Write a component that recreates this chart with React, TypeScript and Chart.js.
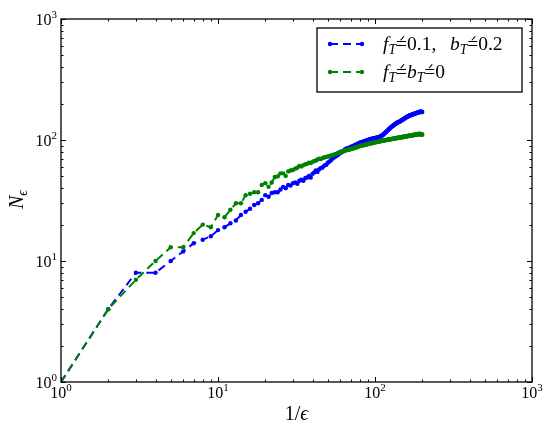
import { useEffect, useRef } from "react";
import { Chart, registerables } from "chart.js";

Chart.register(...registerables);

// ---------- data ----------
const blueValues = [
  1, 4, 8, 8, 10, 12, 14, 15, 16, 18,
  19, 20.5, 21.6, 24, 25.5, 27, 29, 30, 32, 35,
  34, 36.5, 37, 37, 39, 41, 40, 42.5, 42, 44,
  44.5, 43.5, 46, 47, 46, 48.5, 49, 50.5, 49, 52.5,
  54, 56, 54.5, 57, 58.5, 59, 60.5, 62, 62.5, 65,
  66, 67.5, 69, 71, 72, 73, 74.5, 75, 77, 78.5,
  79, 80.5, 81, 83, 84, 85, 85.5, 86, 86.5, 87.5,
  88, 89, 89.5, 90.5, 91, 92, 92.5, 93.5, 94, 95,
  95.5, 96, 96.5, 97, 97.5, 98, 98, 99, 99.5, 100,
  100.5, 101, 101, 102, 102, 102.5, 103, 103.5, 103, 104,
  104, 104.5, 105, 105, 105.5, 106, 106.5, 107, 107.5, 108.5,
  109, 110, 111, 112, 113.5, 114.5, 116, 117, 118.5, 119.5,
  121, 122, 123.5, 124.5, 126, 127, 128, 129, 130, 131,
  132, 133, 134, 135, 136, 137, 137.5, 138.5, 139.5, 140,
  140.5, 141, 141.5, 142.5, 143.5, 144, 145, 146, 146.5, 147.5,
  148, 149, 150, 151, 151.5, 152, 153, 154, 155, 155.5,
  156, 157, 157.5, 158, 158.5, 159, 159.5, 160, 160.5, 161,
  161.5, 162, 162.5, 163, 163.5, 164, 164, 164.5, 165, 165.5,
  166, 166.5, 167, 167, 167.5, 168, 168.5, 169, 169, 169.5,
  170, 170.5, 171, 170.5, 171, 171.5, 171, 170.5, 171, 170,
];

const greenValues = [
  1, 4, 7, 10, 13, 13, 17, 20, 19, 24,
  23, 26.5, 30, 30, 35, 36, 37, 37, 42.5, 44,
  41, 44.5, 49.5, 50, 53, 53, 50.5, 55, 56, 56.5,
  58, 59, 61, 60.5, 62, 63, 63.5, 65, 64.5, 66,
  67, 67.5, 69, 70, 69.5, 70.5, 71.5, 72, 72.5, 73,
  73.5, 74, 74.5, 75, 76, 76.5, 77, 78, 78.5, 80,
  79.5, 80.5, 81, 81, 82, 82.5, 83, 83, 83.5, 84,
  84.5, 85, 85.5, 86, 86.5, 87, 87, 88, 88.5, 89,
  89.5, 90, 90, 90.5, 91, 91, 91.5, 92, 92, 92.5,
  93, 93, 93.5, 94, 94, 94.5, 94.5, 95, 95.5, 95.5,
  96, 96, 96.5, 96.5, 97, 97, 97.5, 97.5, 98, 98,
  98.5, 98.5, 99, 99, 99.5, 99.5, 100, 100, 100, 100.5,
  100.5, 101, 101, 101, 101.5, 101.5, 102, 102, 102, 102.5,
  102.5, 103, 103, 103, 103.5, 103.5, 104, 104, 104, 104.5,
  104.5, 105, 104.5, 105, 105.5, 105, 105.5, 106, 105.5, 106,
  106.5, 106, 106.5, 107, 106.5, 107, 107.5, 107, 107.5, 108,
  107.5, 108, 108, 108.5, 108, 108.5, 109, 108.5, 109, 109,
  109.5, 109, 109.5, 110, 109.5, 110, 110, 110.5, 110, 110.5,
  111, 110.5, 111, 111, 111.5, 111, 111.5, 112, 111.5, 112,
  112, 112.5, 112, 111.5, 112, 111, 111.5, 110.5, 111, 111,
];

// 1/epsilon values (integers 1..200)
const xValues = blueValues.map((_, i) => i + 1);

const axisMin = 1;
const axisMax = 1000;
const tickExponents = ["0", "1", "2", "3"];

type Seg = { t: string; it?: boolean; sub?: boolean; acc?: boolean };
const legendBlue: Seg[] = [
  { t: "f", it: true }, { t: "T", it: true, sub: true }, { t: "=", acc: true },
  { t: "0.1," }, { t: "\u2002\u2009" },
  { t: "b", it: true }, { t: "T", it: true, sub: true }, { t: "=", acc: true }, { t: "0.2" },
];
const legendGreen: Seg[] = [
  { t: "f", it: true }, { t: "T", it: true, sub: true }, { t: "=", acc: true },
  { t: "b", it: true }, { t: "T", it: true, sub: true }, { t: "=", acc: true }, { t: "0" },
];
const yTitle: Seg[] = [{ t: "N", it: true }, { t: "\u03F5", it: true, sub: true }];
const xTitle: Seg[] = [{ t: "1/" }, { t: "\u03F5", it: true }];

const BLUE = "#0000ff";
const GREEN = "#008000";
const FONT = '"Liberation Serif", "DejaVu Serif", serif';

function segFont(s: Seg, size: number) {
  const sz = s.sub ? size * 0.7 : size;
  return `${s.it ? "italic " : ""}${sz}px ${FONT}`;
}

function richWidth(ctx: CanvasRenderingContext2D, segs: Seg[], size: number) {
  let w = 0;
  for (const s of segs) {
    ctx.font = segFont(s, size);
    w += ctx.measureText(s.t).width;
  }
  return w;
}

function drawRich(ctx: CanvasRenderingContext2D, x: number, y: number, segs: Seg[], size: number) {
  ctx.textAlign = "left";
  ctx.textBaseline = "alphabetic";
  for (const s of segs) {
    ctx.font = segFont(s, size);
    const w = ctx.measureText(s.t).width;
    const yy = s.sub ? y + size * 0.22 : y;
    ctx.fillText(s.t, x, yy);
    if (s.acc) {
      ctx.save();
      ctx.lineWidth = 1.1;
      ctx.beginPath();
      ctx.moveTo(x + w * 0.42, y - size * 0.5);
      ctx.lineTo(x + w * 0.72, y - size * 0.7);
      ctx.stroke();
      ctx.restore();
    }
    x += w;
  }
}

function drawPow(ctx: CanvasRenderingContext2D, x: number, y: number, exp: string, align: "center" | "right") {
  ctx.textBaseline = "alphabetic";
  ctx.textAlign = "left";
  const base = `16px ${FONT}`;
  const sup = `11px ${FONT}`;
  ctx.font = base;
  const wb = ctx.measureText("10").width;
  ctx.font = sup;
  const ws = ctx.measureText(exp).width;
  const total = wb + ws;
  const x0 = align === "center" ? x - total / 2 : x - total;
  ctx.font = base;
  ctx.fillText("10", x0, y);
  ctx.font = sup;
  ctx.fillText(exp, x0 + wb, y - 7);
}

const decorPlugin = {
  id: "decor",
  afterDatasetsDraw(chart: any) {
    const ctx: CanvasRenderingContext2D = chart.ctx;
    const { left, right, top, bottom } = chart.chartArea;
    const xs = chart.scales.x;
    const ys = chart.scales.y;
    ctx.save();
    ctx.fillStyle = "#000";
    ctx.strokeStyle = "#000";

    // frame
    ctx.lineWidth = 1.3;
    ctx.strokeRect(left, top, right - left, bottom - top);

    // ticks (inward, all four sides)
    ctx.lineWidth = 1;
    const vals: { v: number; major: boolean }[] = [];
    for (let d = axisMin; d < axisMax; d *= 10) {
      for (let m = 1; m <= 9; m++) vals.push({ v: m * d, major: m === 1 });
    }
    vals.push({ v: axisMax, major: true });
    ctx.beginPath();
    for (const { v, major } of vals) {
      const len = major ? 5 : 2.5;
      const px = Math.round(xs.getPixelForValue(v)) + 0.5;
      ctx.moveTo(px, bottom);
      ctx.lineTo(px, bottom - len);
      ctx.moveTo(px, top);
      ctx.lineTo(px, top + len);
      const py = Math.round(ys.getPixelForValue(v)) + 0.5;
      ctx.moveTo(left, py);
      ctx.lineTo(left + len, py);
      ctx.moveTo(right, py);
      ctx.lineTo(right - len, py);
    }
    ctx.stroke();

    // tick labels
    tickExponents.forEach((e) => {
      const v = Math.pow(10, Number(e));
      drawPow(ctx, xs.getPixelForValue(v), bottom + 16, e, "center");
      drawPow(ctx, left - 4, ys.getPixelForValue(v) + 6, e, "right");
    });

    // axis titles
    const tsize = 20;
    const xw = richWidth(ctx, xTitle, tsize);
    drawRich(ctx, (left + right) / 2 - xw / 2, bottom + 38, xTitle, tsize);
    ctx.save();
    ctx.translate(23, (top + bottom) / 2 - 1);
    ctx.rotate(-Math.PI / 2);
    const yw = richWidth(ctx, yTitle, tsize);
    drawRich(ctx, -yw / 2, 0, yTitle, tsize);
    ctx.restore();

    // legend
    const bx = right - 215;
    const by = top + 9;
    const bw = 205;
    const bh = 64;
    ctx.fillStyle = "#fff";
    ctx.fillRect(bx, by, bw, bh);
    ctx.strokeStyle = "#000";
    ctx.lineWidth = 1.3;
    ctx.strokeRect(bx, by, bw, bh);
    const entries: [string, Seg[], number][] = [
      [BLUE, legendBlue, by + 16],
      [GREEN, legendGreen, by + 44],
    ];
    for (const [col, segs, ly] of entries) {
      const x1 = bx + 13;
      const x2 = bx + 45;
      ctx.strokeStyle = col;
      ctx.fillStyle = col;
      ctx.lineWidth = 2;
      ctx.setLineDash([8, 5]);
      ctx.beginPath();
      ctx.moveTo(x1, ly);
      ctx.lineTo(x2, ly);
      ctx.stroke();
      ctx.setLineDash([]);
      for (const px of [x1, x2]) {
        ctx.beginPath();
        ctx.arc(px, ly, 2.2, 0, Math.PI * 2);
        ctx.fill();
      }
      ctx.fillStyle = "#000";
      ctx.strokeStyle = "#000";
      drawRich(ctx, bx + 66, ly + 6, segs, 19.5);
    }
    ctx.restore();
  },
};

export default function App() {
  const ref = useRef<HTMLCanvasElement | null>(null);
  useEffect(() => {
    if (!ref.current) return;
    const mk = (vals: number[]) => vals.map((y, i) => ({ x: xValues[i], y }));
    const common = {
      borderWidth: 2,
      borderDash: [8, 5],
      pointRadius: 2.2,
      pointBorderWidth: 0,
      tension: 0,
    };
    const chart = new Chart(ref.current, {
      type: "line",
      data: {
        datasets: [
          {
            label: "blue",
            data: mk(blueValues),
            borderColor: BLUE,
            backgroundColor: BLUE,
            pointBackgroundColor: BLUE,
            order: 1,
            ...common,
          },
          {
            label: "green",
            data: mk(greenValues),
            borderColor: GREEN,
            backgroundColor: GREEN,
            pointBackgroundColor: GREEN,
            order: 0,
            ...common,
          },
        ],
      },
      options: {
        animation: false,
        responsive: false,
        layout: { padding: { left: 61, top: 19, right: 18, bottom: 54 } },
        plugins: { legend: { display: false }, tooltip: { enabled: false } },
        scales: {
          x: { type: "logarithmic", min: axisMin, max: axisMax, display: false },
          y: { type: "logarithmic", min: axisMin, max: axisMax, display: false },
        },
      },
      plugins: [decorPlugin],
    });
    return () => chart.destroy();
  }, []);
  return (
    <div style={{ position: "fixed", left: 0, top: 0, width: 550, height: 436, background: "#fff" }}>
      <canvas ref={ref} width={550} height={436} style={{ display: "block" }} />
    </div>
  );
}
